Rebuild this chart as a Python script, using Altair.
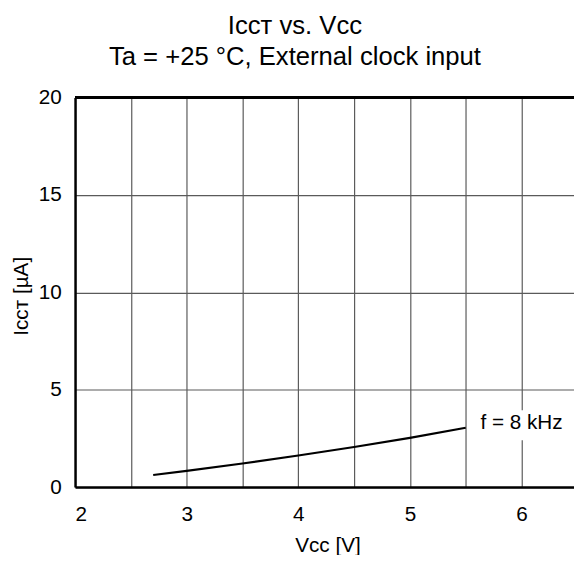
import altair as alt
import pandas as pd

# Curve data (Vcc in V, Icct in µA)
vcc = [2.7, 3.0, 3.5, 4.0, 4.5, 5.0, 5.5]
icct = [0.62, 0.83, 1.21, 1.62, 2.06, 2.53, 3.05]

# Annotation
label_text = ["f = 8 kHz"]
label_x = [6.0]
label_y = [3.3]
label_box_x = [5.6]
label_box_x2 = [6.42]
label_box_y = [2.4]
label_box_y2 = [3.95]

x_grid_values = [2.0, 2.5, 3.0, 3.5, 4.0, 4.5, 5.0, 5.5, 6.0, 6.5]
y_grid_values = [0, 5, 10, 15, 20]

FONT = "Liberation Sans, Arial, DejaVu Sans"

df = pd.DataFrame({"vcc": vcc, "icct": icct})
lab = pd.DataFrame({"t": label_text, "x": label_x, "y": label_y,
                    "bx": label_box_x, "bx2": label_box_x2,
                    "by": label_box_y, "by2": label_box_y2})

xscale = alt.Scale(domain=[2, 6.47], nice=False, zero=False)
yscale = alt.Scale(domain=[0, 20], nice=False)

xaxis = alt.Axis(values=x_grid_values, grid=True, gridColor="#5a5a5a", gridWidth=1.2,
                 gridOpacity=1, ticks=False, domain=True, domainColor="black",
                 domainWidth=2.5,
                 labelExpr="datum.value % 1 === 0 ? format(datum.value, 'd') : ''",
                 labelFont=FONT, labelFontSize=21, labelColor="black", labelPadding=17,
                 labelBaseline="top",
                 title="Vᴄᴄ [V]", titleFont=FONT, titleFontSize=21, titleFontWeight="normal",
                 titleColor="black", titleX=256, titleY=59, titleBaseline="middle",
                 titleAlign="center", titleAnchor="start")
yaxis = alt.Axis(values=y_grid_values, grid=True, gridColor="#5a5a5a", gridWidth=1.2,
                 gridOpacity=1, ticks=False, domain=True, domainColor="black",
                 domainWidth=2.5, labelFont=FONT, labelFontSize=21, labelColor="black",
                 labelPadding=14, title="Iᴄᴄᴛ [µA]", titleFont=FONT, titleFontSize=21,
                 titleFontWeight="normal", titleColor="black", titleX=-54, titleY=201,
                 titleAngle=270, titleBaseline="middle", titleAlign="center",
                 titleAnchor="start")

line = alt.Chart(df).mark_line(color="black", strokeWidth=2.2).encode(
    x=alt.X("vcc:Q", scale=xscale, axis=xaxis),
    y=alt.Y("icct:Q", scale=yscale, axis=yaxis),
)

top = alt.Chart(df).mark_rule(color="black", strokeWidth=2.5).encode(
    y=alt.datum(20, scale=yscale)
)

box = alt.Chart(lab).mark_rect(color="white").encode(
    x="bx:Q", x2="bx2", y="by:Q", y2="by2"
)

text = alt.Chart(lab).mark_text(font=FONT, fontSize=21, color="black", align="center",
                                baseline="middle").encode(
    x="x:Q", y="y:Q", text="t:N"
)

chart = alt.layer(line, box, text, top).properties(
    width=506, height=395,
    autosize=alt.AutoSizeParams(type="none"),
    padding={"left": 68, "top": 87, "right": 0, "bottom": 65},
    title=alt.Title(["Iᴄᴄᴛ vs. Vᴄᴄ", "Ta = +25 °C, External clock input"],
                    font=FONT, fontSize=26, fontWeight="normal", color="black",
                    lineHeight=32, anchor="middle", offset=17, dx=-30),
).configure_view(stroke=None)

chart.save("out.html", embed_options={"renderer": "svg", "actions": False})
